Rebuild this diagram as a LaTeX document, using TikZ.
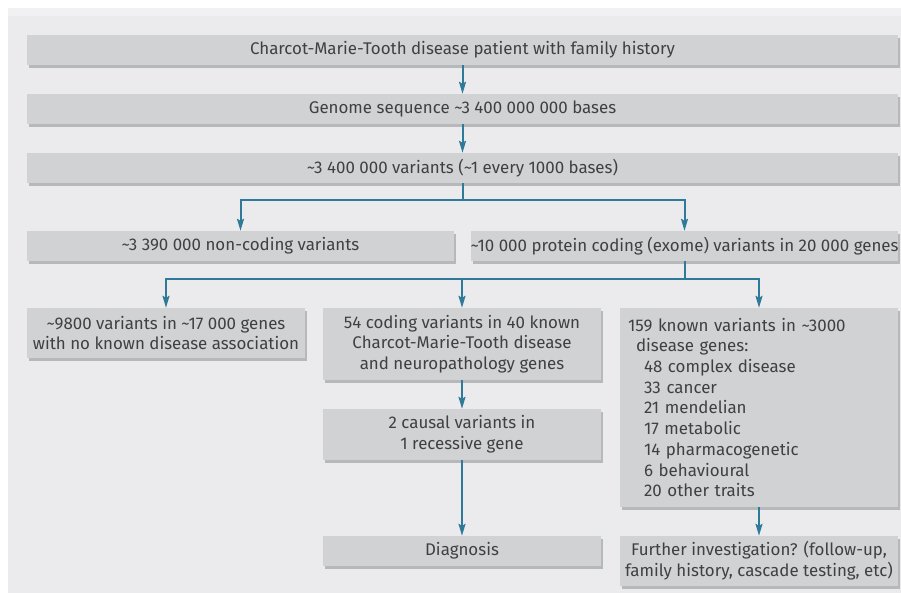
\documentclass[tikz,border=0pt]{standalone}
\usepackage{fontspec}
\setmainfont{Fira Sans}
\usepackage{tikz}
\usetikzlibrary{
  	positioning,
  	arrows.meta,
  	shadows,
  	calc
  }
\definecolor{bggray}{HTML}{EBEBED}
\definecolor{topgray}{HTML}{F1F1F3}
\definecolor{boxgray}{HTML}{D1D2D4}
\definecolor{shadowgray}{HTML}{B7B8BA}
\definecolor{textgray}{HTML}{404043}
\definecolor{flowblue}{HTML}{2F7A98}
\tikzstyle{box}=[fill=boxgray, text=textgray, inner sep=0pt, align=center,
  font=\fontsize{16.9}{20.7}\selectfont,
  drop shadow={shadow xshift=2pt, shadow yshift=-3pt, fill=shadowgray, opacity=1}]
\tikzstyle{flow}=[draw=flowblue, line width=2pt, -{Stealth[length=12pt,width=7pt,inset=2pt]}]
\newcommand{\apx}{\textasciitilde}

\begin{document}
\begin{tikzpicture}[x=1pt,y=-1pt]
    \useasboundingbox (0,0) rectangle (901,593);
    \fill[bggray] (8,8) rectangle (901,593);
    \fill[topgray] (8,8) rectangle (901,16);
    \node [box, minimum width=871pt, minimum height=30pt] (a) at (462.5,50) {Charcot-Marie-Tooth disease patient with family history};
    \path (a)++(0,59) node [box, minimum width=871pt, minimum height=30pt] (b) {Genome sequence \apx3 400 000 000 bases};
    \path (b)++(0,59) node [box, minimum width=871pt, minimum height=30pt] (c) {\apx3 400 000 variants (\apx1 every 1000 bases)};
    \node [box, minimum width=427pt, minimum height=30pt] (nc) at (240.5,246) {\apx3 390 000 non-coding variants};
    \node [box, minimum width=427pt, minimum height=30pt] (pc) at (684.5,246) {\apx10 000 protein coding (exome) variants in 20 000 genes};
    \node [box, minimum width=278pt, minimum height=50pt] (nd) at (166,333) {\apx9800 variants in \apx17 000 genes\\with no known disease association};
    \node [box, minimum width=278pt, minimum height=72pt] (cmt) at (462,344) {54 coding variants in 40 known\\Charcot-Marie-Tooth disease\\and neuropathology genes};
    \node [box, text width=262pt, inner xsep=8pt, minimum height=199pt, align=left] (kv) at (759,407.5) {159 known variants in \apx3000\\
      \hspace*{8pt}disease genes:\\
      \hspace*{16pt}48 complex disease\\
      \hspace*{16pt}33 cancer\\
      \hspace*{16pt}21 mendelian\\
      \hspace*{16pt}17 metabolic\\
      \hspace*{16pt}14 pharmacogenetic\\
      \hspace*{16pt}6 behavioural\\
      \hspace*{16pt}20 other traits};
    \node [box, minimum width=278pt, minimum height=51pt] (cv) at (462,434.5) {2 causal variants in\\1 recessive gene};
    \node [box, minimum width=278pt, minimum height=30pt] (dx) at (462,551) {Diagnosis};
    \node [box, minimum width=278pt, minimum height=50pt] (fi) at (759,561) {Further investigation? (follow-up,\\family history, cascade testing, etc)};
    \draw [flow] (a) -- (b);
    \draw [flow] (b) -- (c);
    \draw [flow] (c.south) -- ++(0,17) -| (nc);
    \draw [flow] (c.south) -- ++(0,17) -| (pc);
    \draw [flow] (pc.south) -- ++(0,18) -| (nd);
    \draw [flow] (pc.south) -- ++(0,18) -| (cmt);
    \draw [flow] (pc.south) -- ++(0,18) -| (kv);
    \draw [flow] (cmt) -- (cv);
    \draw [flow] (cv) -- (dx);
    \draw [flow] (kv) -- (fi);
\end{tikzpicture}
\end{document}
